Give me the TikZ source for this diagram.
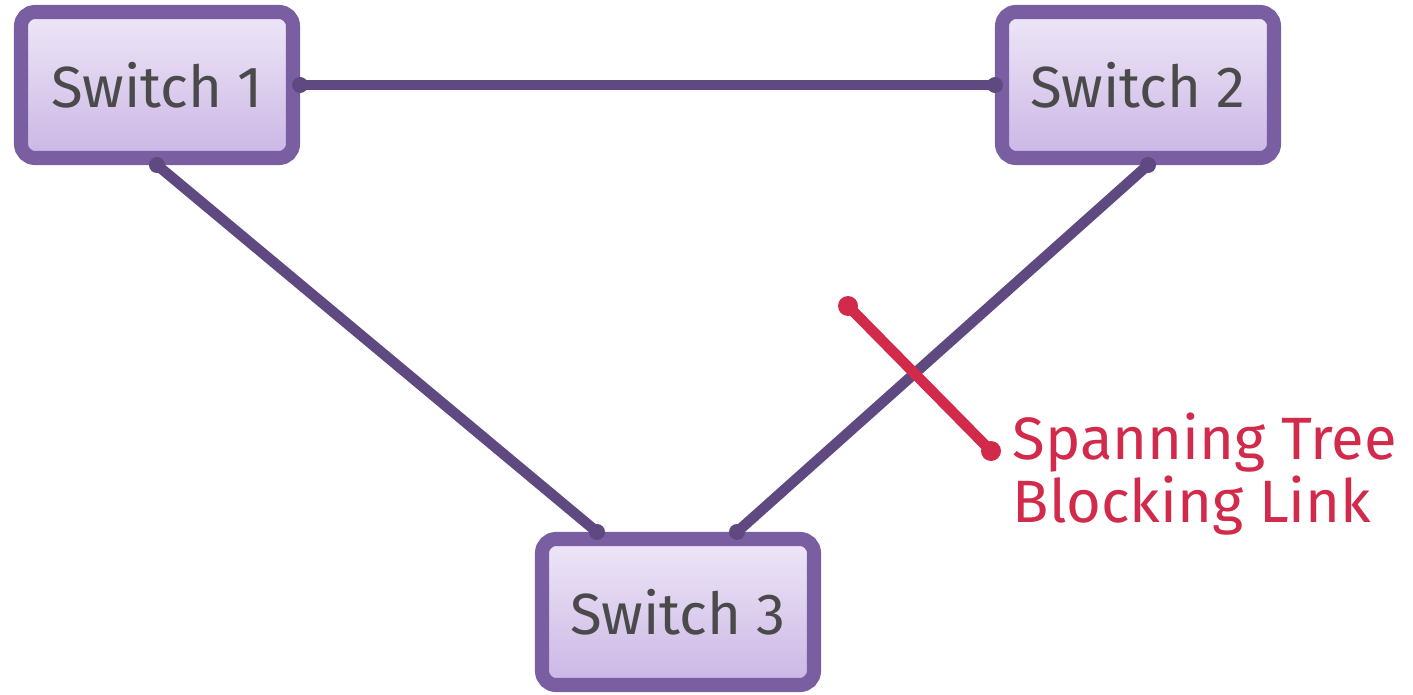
\documentclass[tikz,border=0pt]{standalone}
\usepackage{fontspec}
\setmainfont{Fira Sans}
\usepackage{tikz}
\usetikzlibrary{positioning,calc}
\definecolor{boxborder}{HTML}{7A5EA2}
\definecolor{boxtop}{HTML}{EEE7F7}
\definecolor{boxbottom}{HTML}{CBB6E5}
\definecolor{linkcol}{HTML}{5E4A80}
\definecolor{blockred}{HTML}{D12A4B}
\definecolor{labelgray}{HTML}{4A4A4A}

\begin{document}
\begin{tikzpicture}[
    x=0.1mm, y=-0.1mm,
    switchbox/.style={draw=boxborder, line width=4pt, rounded corners=4pt, top color=boxtop, bottom color=boxbottom, minimum width=27.2mm, minimum height=14.6mm, align=center, text=labelgray, font=\fontsize{16.5}{19}\selectfont},
    link/.style={draw=linkcol, line width=3pt, line cap=round},
    blocklink/.style={draw=blockred, line width=3pt, line cap=round}
]
\useasboundingbox (0,0) rectangle (1413,695);

\node[switchbox] (s1) at (157,85) {Switch 1};
\node[switchbox] (s2) at (1138,85) {Switch 2};
\node[switchbox] (s3) at (678,612) {Switch 3};

\coordinate (x1) at (848,306);
\coordinate (x2) at (991,451);
\node[anchor=north west, align=left, text=blockred, font=\fontsize{17}{15.5}\selectfont, inner sep=0pt] (blk) at (1012,412) {Spanning Tree\\Blocking Link};

% links between switches
\draw[link] (s1.east) -- (s2.west);
\draw[link] (s1.south) -- ([xshift=-8.1mm]s3.north);
\draw[link] ([xshift=1mm]s2.south) -- ([xshift=5.9mm]s3.north);
\foreach \p in {s1.east, s2.west, s1.south}
  \fill[linkcol] (\p) circle (0.8mm);
\fill[linkcol] ([xshift=-8.1mm]s3.north) circle (0.8mm);
\fill[linkcol] ([xshift=1mm]s2.south) circle (0.8mm);
\fill[linkcol] ([xshift=5.9mm]s3.north) circle (0.8mm);

% blocked link mark
\draw[blocklink] (x1) -- (x2);
\fill[blockred] (x1) circle (1mm);
\fill[blockred] (x2) circle (1mm);
\end{tikzpicture}
\end{document}
